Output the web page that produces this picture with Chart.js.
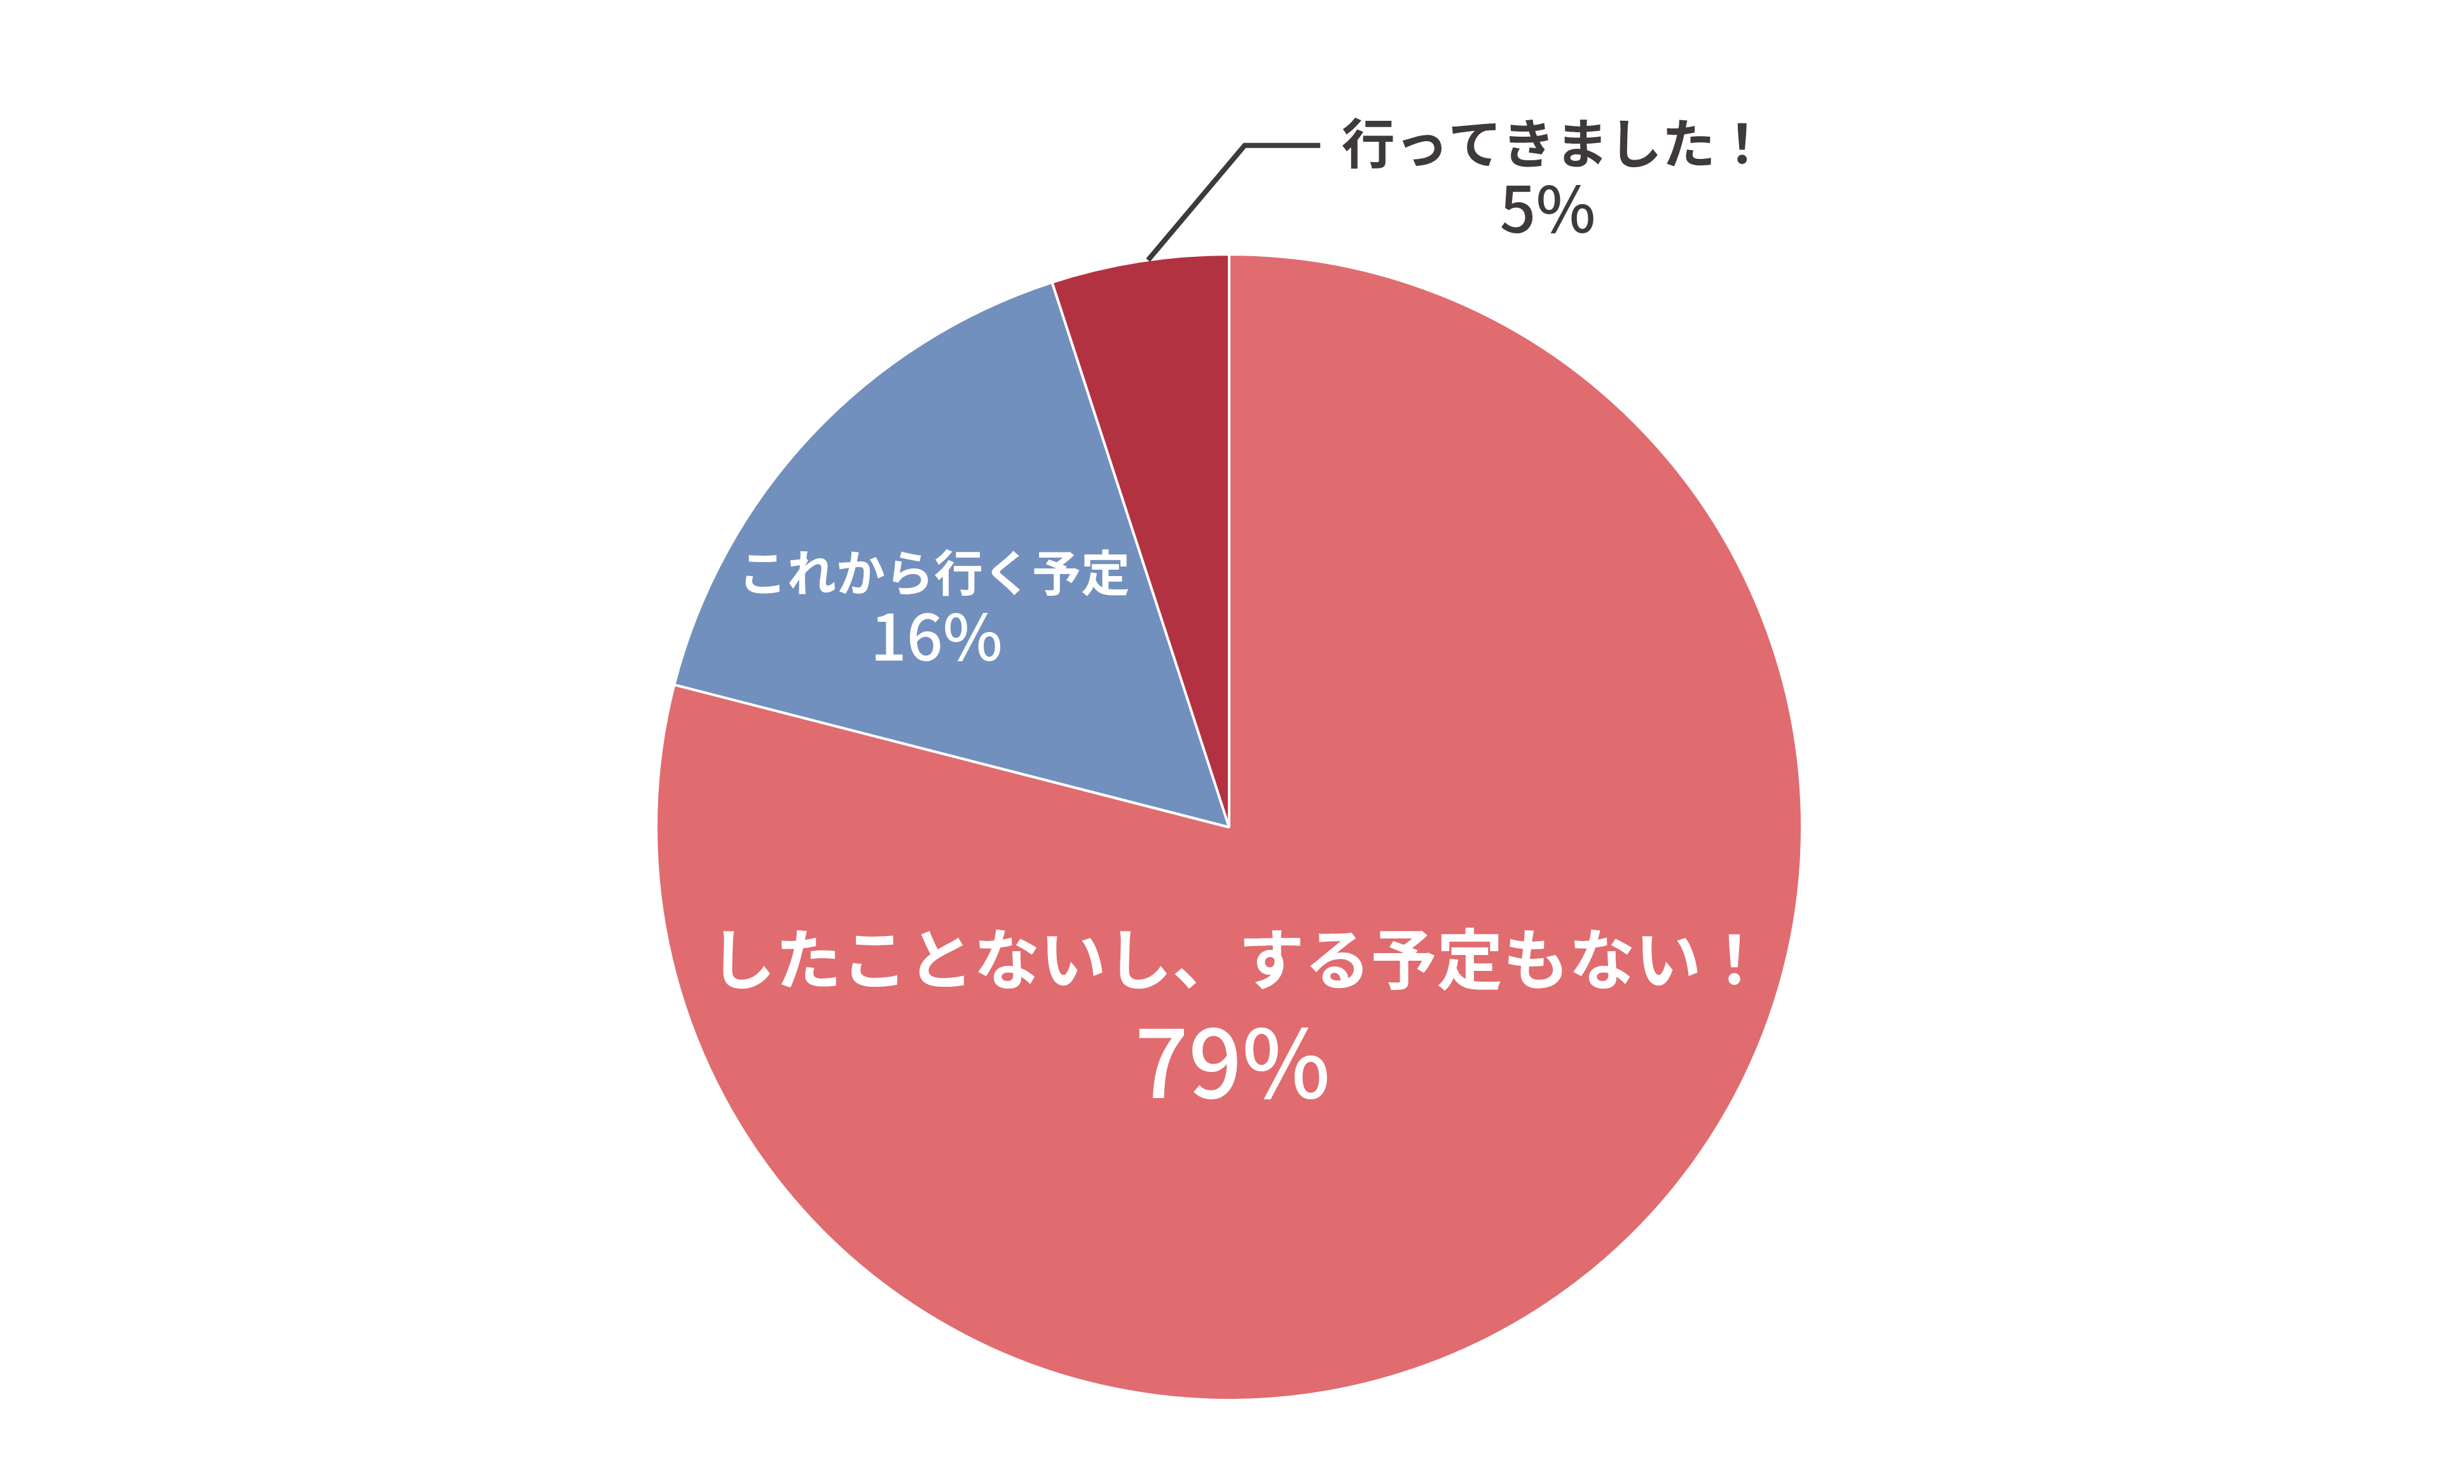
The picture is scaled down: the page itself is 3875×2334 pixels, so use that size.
<!DOCTYPE html>
<html lang="ja">
<head>
<meta charset="utf-8">
<script src="https://cdn.jsdelivr.net/npm/chart.js@4.4.1/dist/chart.umd.min.js"></script>
<style>
    html, body { margin: 0; padding: 0; background: #fff; }
    #wrap { width: 3875px; height: 2334px; }
</style>
</head>
<body>
<div id="wrap"><canvas id="pieChart"></canvas></div>
<script>
const sliceLabels = ['したことないし、する予定もない！', 'これから行く予定', '行ってきました！'];
const shares = [79, 16, 5];
const sliceColors = ['#E06C70', '#7290BD', '#B33242'];

const FONT = "'Noto Sans CJK JP', 'Noto Sans', sans-serif";
const DARK = '#3E3A39';

// where each label sits, in units of the pie radius from the centre
const labelPlaces = [
    { name: [0.016, 0.23], nameSize: 104, pct: [0.006, 0.41], pctSize: 148, color: '#fff' },
    { name: [-0.515, -0.444], nameSize: 77, pct: [-0.511, -0.333], pctSize: 100, color: '#fff' },
    { name: [0.569, -1.194], nameSize: 84, pct: [0.556, -1.08], pctSize: 100, color: DARK, leader: [[0.027, -1.19], [0.159, -1.19]] }
];

const sliceLabelPlugin = {
    id: 'sliceLabels',
    afterDatasetsDraw(chart) {
        const ctx = chart.ctx;
        const arcs = chart.getDatasetMeta(0).data;
        ctx.save();
        ctx.textAlign = 'center';
        ctx.textBaseline = 'middle';
        arcs.forEach((arc, i) => {
            const p = arc.getProps(['x', 'y', 'outerRadius', 'startAngle', 'endAngle'], true);
            const r = p.outerRadius;
            const place = labelPlaces[i];

            if (place.leader) {
                const mid = (p.startAngle + p.endAngle) / 2 + 0.015;
                ctx.beginPath();
                ctx.moveTo(p.x + Math.cos(mid) * r, p.y + Math.sin(mid) * r);
                place.leader.forEach(pt => ctx.lineTo(p.x + pt[0] * r, p.y + pt[1] * r));
                ctx.lineWidth = 8;
                ctx.strokeStyle = DARK;
                ctx.stroke();
            }

            ctx.fillStyle = place.color;
            ctx.font = `700 ${place.nameSize}px ${FONT}`;
            ctx.fillText(sliceLabels[i], p.x + place.name[0] * r, p.y + place.name[1] * r);
            ctx.font = `500 ${place.pctSize}px ${FONT}`;
            ctx.fillText(shares[i] + '%', p.x + place.pct[0] * r, p.y + place.pct[1] * r);
        });
        ctx.restore();
    }
};

new Chart(document.getElementById('pieChart'), {
    type: 'pie',
    data: {
        labels: sliceLabels,
        datasets: [{
            data: shares,
            backgroundColor: sliceColors,
            borderColor: '#ffffff',
            borderWidth: 4
        }]
    },
    options: {
        responsive: true,
        maintainAspectRatio: false,
        devicePixelRatio: 1,
        animation: false,
        layout: {
            padding: { top: 398, bottom: 130, left: 1030, right: 1039 }
        },
        plugins: {
            legend: { display: false },
            tooltip: { enabled: false }
        }
    },
    plugins: [sliceLabelPlugin]
});
</script>
</body>
</html>
